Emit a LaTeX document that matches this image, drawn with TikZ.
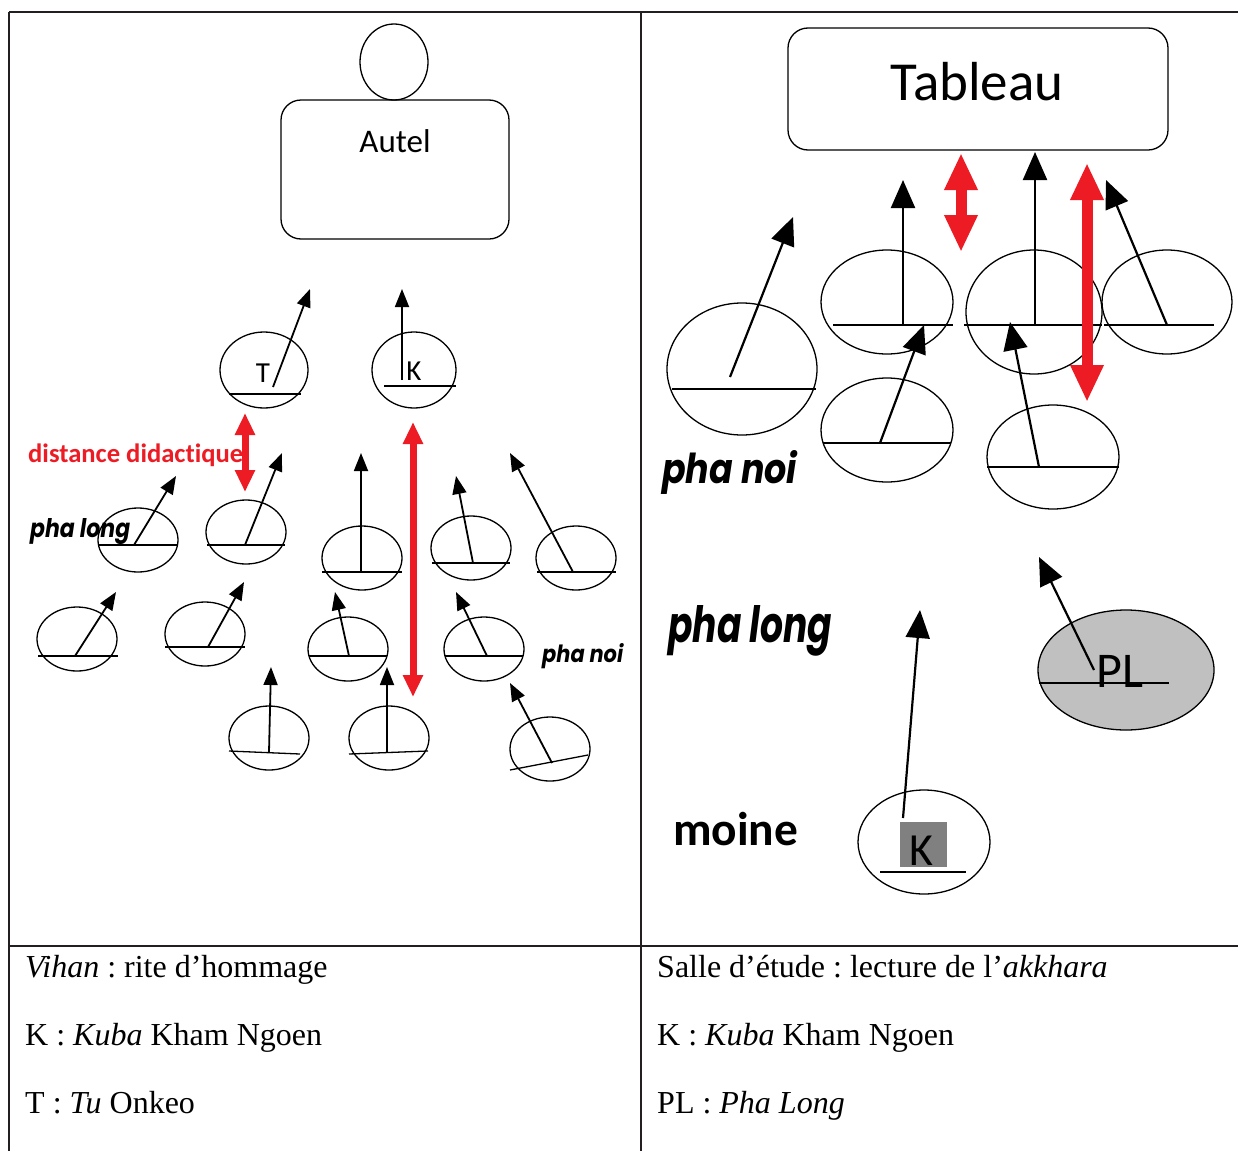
\documentclass[tikz,border=0pt]{standalone}
\usepackage{fontspec}
\usepackage{graphicx}
\setmainfont{Liberation Serif}
\newfontfamily\calf{Carlito}[Ligatures=NoCommon]
\newfontfamily\popf{Poppins}
\usetikzlibrary{arrows.meta}
\definecolor{myred}{HTML}{ED1C24}
\definecolor{tline}{HTML}{231F20}
\definecolor{plgray}{HTML}{C0C0C0}
\definecolor{kgray}{HTML}{808080}
\frenchspacing
\begin{document}
\begin{tikzpicture}[x=1pt,y=-1pt,
  seat/.style={draw=black,line width=1.3pt},
  garr/.style={-{Triangle[length=18pt,width=14pt]},line width=1.8pt},
  barr/.style={-{Triangle[length=28pt,width=24pt]},line width=2.2pt},
  rarrS/.style={{Triangle[length=22pt,width=19pt]}-{Triangle[length=22pt,width=19pt]},draw=myred,line width=7pt},
  rarrL/.style={{Triangle[length=37pt,width=31pt]}-{Triangle[length=37pt,width=31pt]},draw=myred,line width=11pt},
  tbl/.style={draw=tline,line width=2.4pt},
  captxt/.style={anchor=base west,inner sep=0pt,font=\fontsize{32}{36}\selectfont},
  lbl/.style={anchor=base west,inner sep=0pt}
]
\useasboundingbox (0,0) rectangle (1238,1151);
\fill[white] (0,0) rectangle (1238,1151);

% table
\draw[tbl] (9,12) -- (1238,12);
\draw[tbl] (9,12) -- (9,1151);
\draw[tbl] (641,12) -- (641,1151);
\draw[tbl] (9,946) -- (1238,946);

% ===== left panel =====
\draw[seat] (394,62) ellipse [x radius=34,y radius=38];
\draw[seat,rounded corners=20] (281,100) rectangle (509,239);
\node[anchor=base,inner sep=0pt,font=\calf\fontsize{33}{36}\selectfont] (autel) at (395,152) {Autel};

\draw[seat] (264,370) ellipse [x radius=44,y radius=38];
\draw[seat] (229,394) -- (301,394);
\node[anchor=base,inner sep=0pt,font=\calf\fontsize{29}{30}\selectfont] (tT) at (263,382) {T};
\draw[garr] (273,387) -- (310,289);

\draw[seat] (414,370) ellipse [x radius=42,y radius=38];
\draw[seat] (384,386) -- (456,386);
\node[anchor=base,inner sep=0pt,font=\calf\fontsize{29}{30}\selectfont] (tK) at (414,380) {K};
\draw[garr] (402,380) -- (402,289);

\node[lbl] (dd) at (28,462) {\resizebox{215pt}{!}{\color{myred}\calf\bfseries\fontsize{26}{28}\selectfont distance didactique}};
\draw[rarrS] (245,413) -- (245,492);
\draw[rarrS] (413,422) -- (413,697);

\node[lbl] (pl1) at (30,537) {\resizebox{100pt}{19pt}{\popf\bfseries\itshape pha long}};
\node[lbl] (pn1) at (542,662) {\resizebox{81pt}{19pt}{\popf\bfseries\itshape pha noi}};

% seats row 1
\draw[seat] (138,540) ellipse [x radius=40,y radius=32];
\draw[seat] (98,545) -- (178,545);
\draw[garr] (134,545) -- (176,476);
\draw[seat] (246,532) ellipse [x radius=40,y radius=32];
\draw[seat] (207,545) -- (285,545);
\draw[garr] (245,545) -- (282,453);
\draw[seat] (362,558) ellipse [x radius=40,y radius=32];
\draw[seat] (322,572) -- (402,572);
\draw[garr] (361,572) -- (361,453);
\draw[seat] (471,548) ellipse [x radius=40,y radius=32];
\draw[seat] (432,563) -- (510,563);
\draw[garr] (473,563) -- (456,476);
\draw[seat] (576,558) ellipse [x radius=40,y radius=32];
\draw[seat] (537,572) -- (616,572);
\draw[garr] (573,572) -- (510,453);
% row 2
\draw[seat] (77,639) ellipse [x radius=40,y radius=32];
\draw[seat] (38,656) -- (118,656);
\draw[garr] (75,656) -- (116,592);
\draw[seat] (205,634) ellipse [x radius=40,y radius=32];
\draw[seat] (165,647) -- (245,647);
\draw[garr] (208,647) -- (244,582);
\draw[seat] (348,649) ellipse [x radius=40,y radius=32];
\draw[seat] (309,656) -- (387,656);
\draw[garr] (349,656) -- (335,592);
\draw[seat] (484,649) ellipse [x radius=40,y radius=32];
\draw[seat] (445,656) -- (523,656);
\draw[garr] (487,656) -- (456,592);
% row 3
\draw[seat] (269,738) ellipse [x radius=40,y radius=32];
\draw[seat] (229,751) -- (300,754);
\draw[garr] (269,752) -- (271,667);
\draw[seat] (389,738) ellipse [x radius=40,y radius=32];
\draw[seat] (349,754) -- (428,751);
\draw[garr] (387,752) -- (387,667);
\draw[seat] (550,749) ellipse [x radius=40,y radius=32];
\draw[seat] (510,770) -- (588,755);
\draw[garr] (552,763) -- (510,683);

% ===== right panel =====
\draw[seat,rounded corners=20] (788,28) rectangle (1168,150);
\node[anchor=base,inner sep=0pt,font=\calf\fontsize{55}{60}\selectfont] (tab) at (977,100) {Tableau};

\draw[seat] (742,369) ellipse [x radius=75,y radius=66];
\draw[seat] (672,389) -- (816,389);
\draw[barr] (730,377) -- (793,217);
\draw[seat] (887,302) ellipse [x radius=66,y radius=52];
\draw[seat] (833,325) -- (953,325);
\draw[barr] (903,325) -- (903,180);
\draw[seat] (1034,312) ellipse [x radius=68,y radius=62];
\draw[seat] (964,325) -- (1102,325);
\draw[barr] (1035,325) -- (1035,152);
\draw[seat] (1167,302) ellipse [x radius=65,y radius=52];
\draw[seat] (1104,325) -- (1214,325);
\draw[barr] (1167,325) -- (1106,180);
\draw[seat] (887,430) ellipse [x radius=66,y radius=52];
\draw[seat] (823,443) -- (951,443);
\draw[barr] (880,443) -- (924,325);
\draw[seat] (1053,457) ellipse [x radius=66,y radius=52];
\draw[seat] (987,467) -- (1119,467);
\draw[barr] (1039,467) -- (1010,322);

\draw[rarrL] (961,153) -- (961,252);
\draw[rarrL] (1087,163) -- (1087,402);

\node[lbl] (pn2) at (662,483) {\resizebox{135pt}{33pt}{\popf\bfseries\itshape pha noi}};
\node[lbl] (pl2) at (668,642) {\resizebox{164pt}{37pt}{\popf\bfseries\itshape pha long}};
\node[lbl] (moine) at (673,845) {\resizebox{125pt}{!}{\calf\bfseries moine}};

% PL
\draw[seat,fill=plgray] (1126,670) ellipse [x radius=88,y radius=60];
\node[anchor=base,inner sep=0pt,font=\calf\fontsize{50}{54}\selectfont] (tPL) at (1120,687) {PL};
\draw[seat] (1039,683) -- (1169,683);
\draw[barr] (1094,670) -- (1039,557);

% K monk
\draw[seat] (924,842) ellipse [x radius=66,y radius=52];
\fill[kgray] (900,822) rectangle (947,867);
\node[anchor=base,inner sep=0pt,font=\calf\fontsize{46}{50}\selectfont] (tK2) at (921,865) {K};
\draw[seat] (880,872) -- (966,872);
\draw[barr] (903,818) -- (920,610);

% captions
\node[captxt] at (25,977) {\textit{Vihan} : rite d’hommage};
\node[captxt] at (25,1045) {K : \textit{Kuba} Kham Ngoen};
\node[captxt] at (25,1113) {T : \textit{Tu} Onkeo};
\node[captxt] at (657,977) {Salle d’étude : lecture de l’\textit{akkhara}};
\node[captxt] at (657,1045) {K : \textit{Kuba} Kham Ngoen};
\node[captxt] at (657,1113) {PL : \textit{Pha Long}};
\end{tikzpicture}
\end{document}
